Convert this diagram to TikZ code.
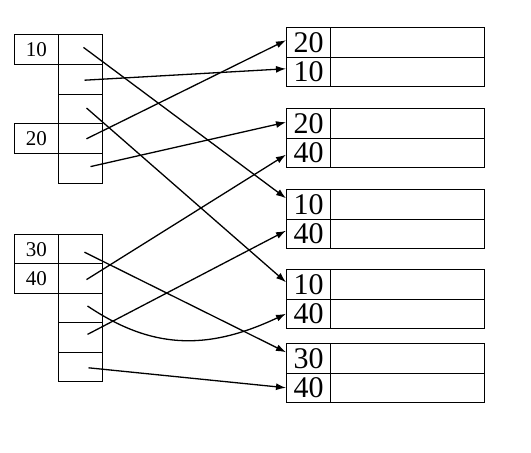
\documentclass[tikz,border=0pt]{standalone}
\usepackage{fontspec}
\setmainfont{Liberation Serif}
\usetikzlibrary{arrows.meta}
\begin{document}
\begin{tikzpicture}[x=1pt,y=-1pt,
  lcell/.style={draw,line width=1pt,minimum width=44pt,minimum height=29.8pt,inner sep=0pt,anchor=north west,font=\fontsize{21}{21}\selectfont},
  lcellb/.style={lcell,minimum height=29.4pt},
  rkey/.style={draw,line width=1pt,minimum width=44pt,minimum height=29.5pt,inner sep=0pt,anchor=north west,font=\fontsize{30}{30}\selectfont},
  rval/.style={draw,line width=1pt,minimum width=154pt,minimum height=29.5pt,inner sep=0pt,anchor=north west},
  arr/.style={line width=1.3pt,-{Latex[length=10pt,width=7pt]}}]
\useasboundingbox (0,0) rectangle (531,453);
% left top group
\node[lcell] (ka) at (14,34) {10};
\node[lcell] (pa) at (58,34) {};
\node[lcell] (pb) at (58,63.8) {};
\node[lcell] (pc) at (58,93.6) {};
\node[lcell] (kb) at (14,123.4) {20};
\node[lcell] (pd) at (58,123.4) {};
\node[lcell] (pe) at (58,153.2) {};
% left bottom group
\node[lcellb] (kc) at (14,234) {30};
\node[lcellb] (pf) at (58,234) {};
\node[lcellb] (kd) at (14,263.4) {40};
\node[lcellb] (pg) at (58,263.4) {};
\node[lcellb] (ph) at (58,292.8) {};
\node[lcellb] (pi) at (58,322.2) {};
\node[lcellb] (pj) at (58,351.6) {};
% right groups
\node[rkey] (r1k1) at (286,27) {20};   \node[rval] (r1v1) at (330,27) {};
\node[rkey] (r1k2) at (286,56.5) {10}; \node[rval] (r1v2) at (330,56.5) {};
\node[rkey] (r2k1) at (286,108) {20};  \node[rval] (r2v1) at (330,108) {};
\node[rkey] (r2k2) at (286,137.5) {40};\node[rval] (r2v2) at (330,137.5) {};
\node[rkey] (r3k1) at (286,189) {10};  \node[rval] (r3v1) at (330,189) {};
\node[rkey] (r3k2) at (286,218.5) {40};\node[rval] (r3v2) at (330,218.5) {};
\node[rkey] (r4k1) at (286,269) {10};  \node[rval] (r4v1) at (330,269) {};
\node[rkey] (r4k2) at (286,298.5) {40};\node[rval] (r4v2) at (330,298.5) {};
\node[rkey] (r5k1) at (286,343) {30};  \node[rval] (r5v1) at (330,343) {};
\node[rkey] (r5k2) at (286,372.5) {40};\node[rval] (r5v2) at (330,372.5) {};
% arrows
\draw[arr] ([xshift=3pt,yshift=2pt]pa.center) -- ([yshift=6pt]r3k1.west);
\draw[arr] ([xshift=4pt,yshift=-1pt]pb.center) -- ([yshift=3pt]r1k2.west);
\draw[arr] ([xshift=6pt,yshift=1pt]pc.center) -- ([yshift=2pt]r4k1.west);
\draw[arr] ([xshift=6pt]pd.center) -- ([yshift=2pt]r1k1.west);
\draw[arr] ([xshift=10pt,yshift=2pt]pe.center) -- ([yshift=1pt]r2k1.west);
\draw[arr] ([xshift=4pt,yshift=-3pt]pf.center) -- ([yshift=6pt]r5k1.west);
\draw[arr] ([xshift=6pt,yshift=-1pt]pg.center) -- ([yshift=-2pt]r2k2.west);
\draw[arr] ([xshift=7pt,yshift=2pt]ph.center) .. controls (150,348) and (205,352) .. (r4k2.west);
\draw[arr] ([xshift=7pt,yshift=3pt]pi.center) -- ([yshift=3pt]r3k2.west);
\draw[arr] ([xshift=8pt,yshift=-1pt]pj.center) -- (r5k2.west);
\end{tikzpicture}
\end{document}
